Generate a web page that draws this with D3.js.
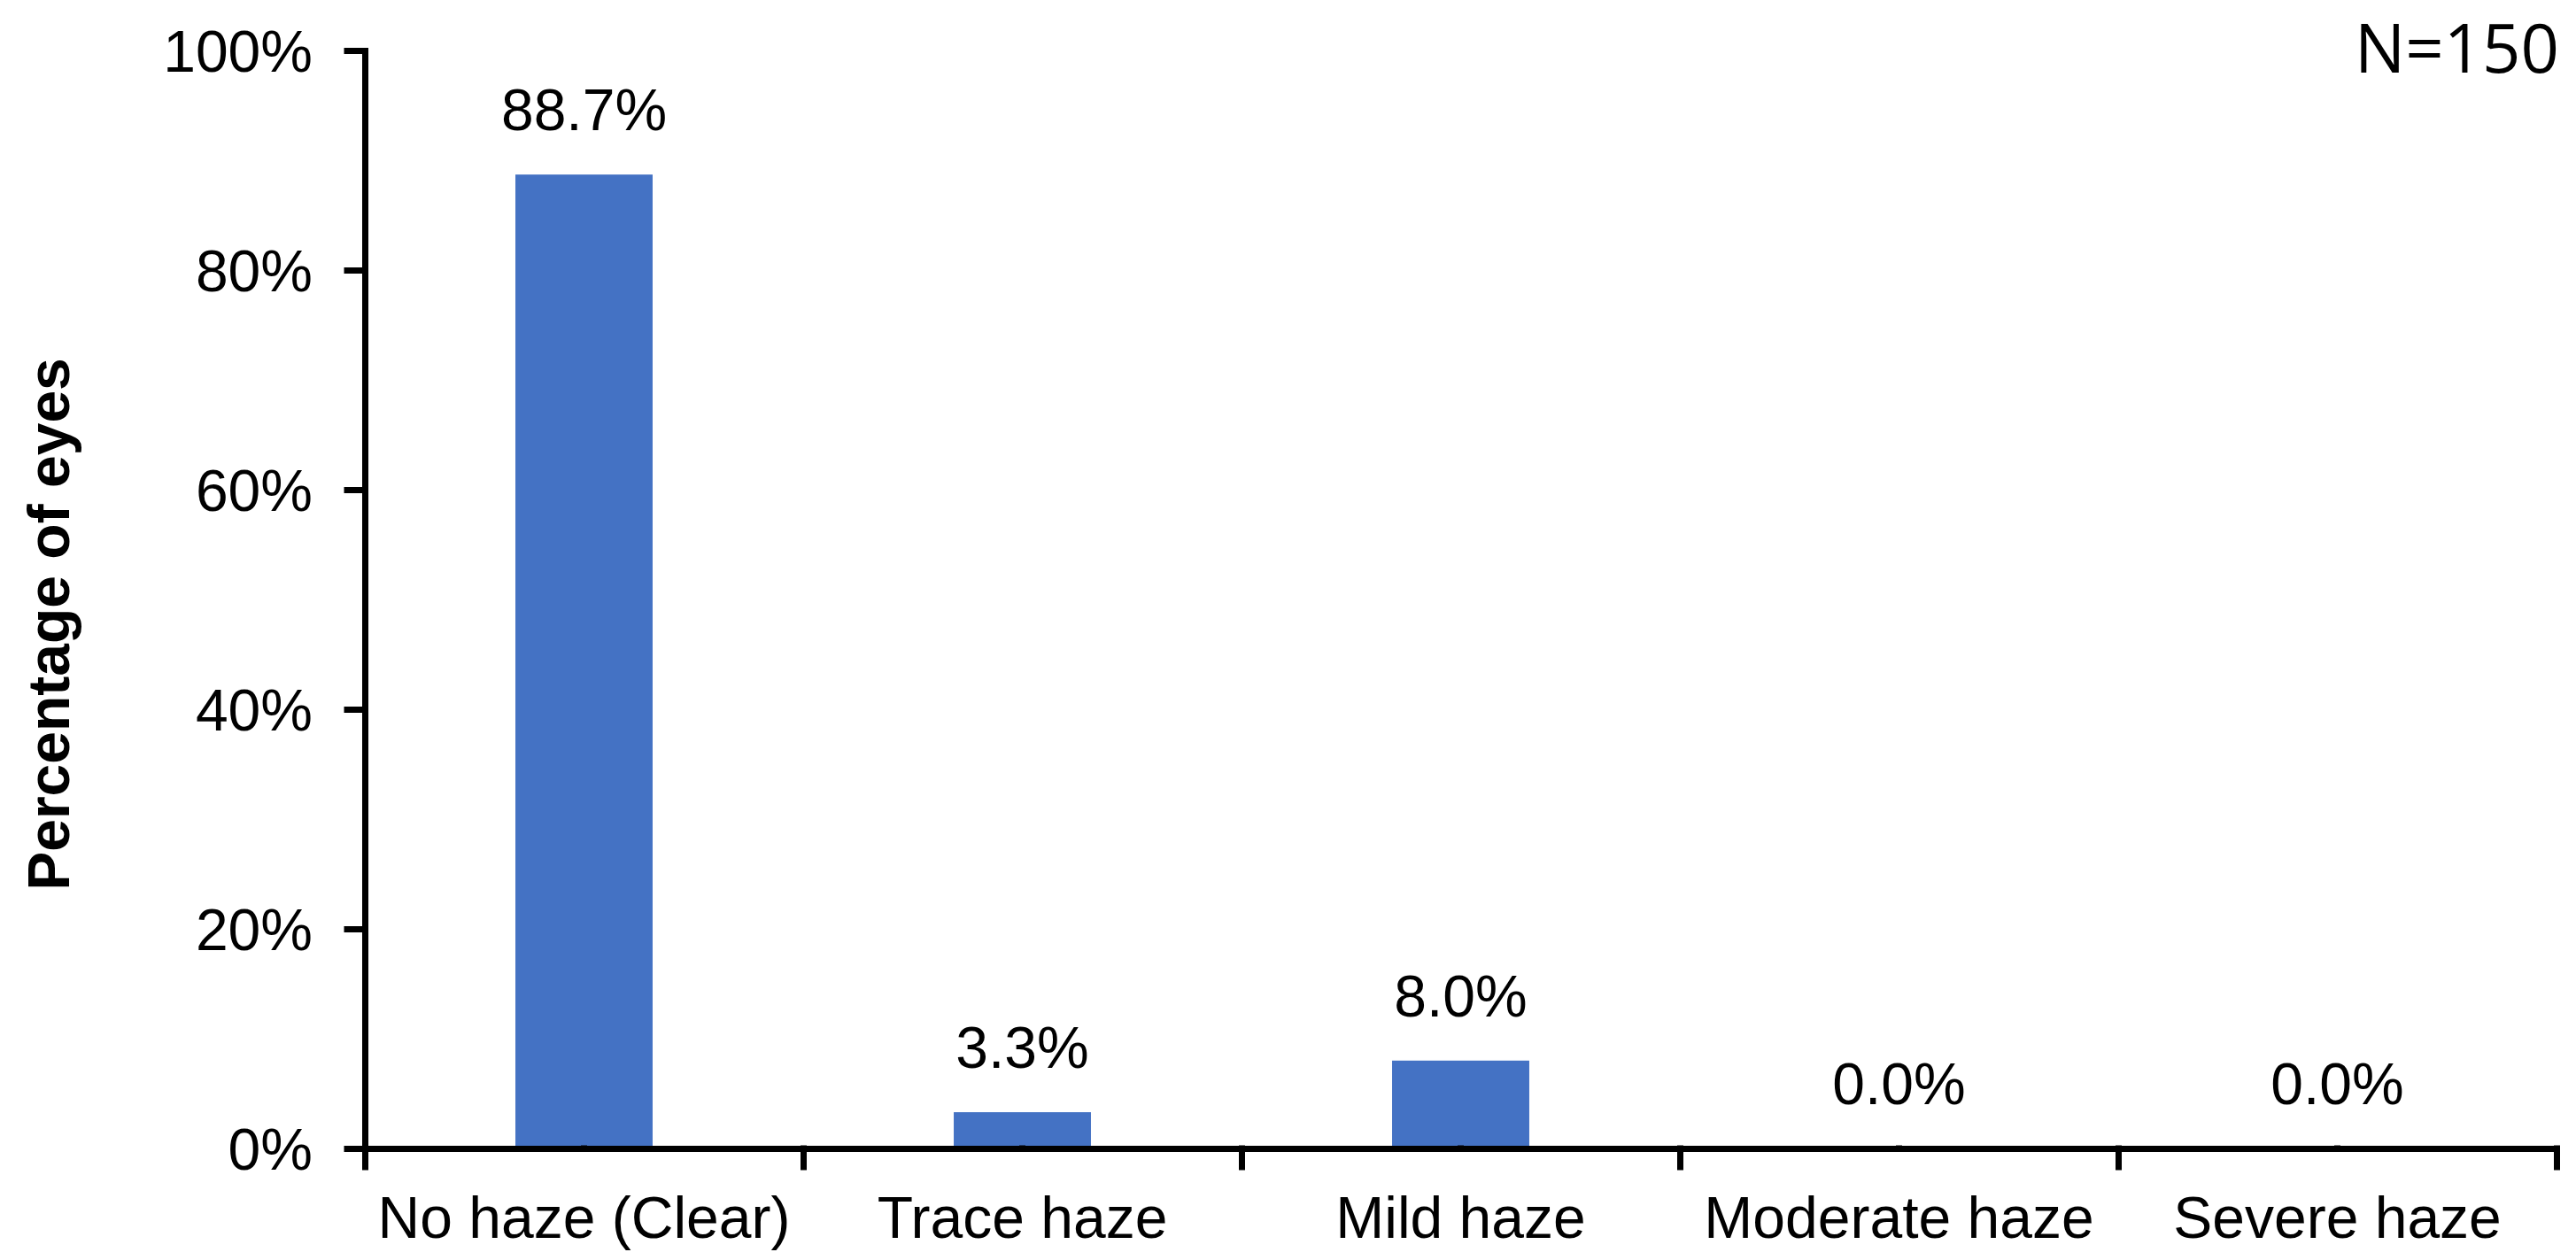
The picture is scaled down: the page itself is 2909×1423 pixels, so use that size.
<!DOCTYPE html>
<html>
<head>
<meta charset="utf-8">
<script src="https://cdn.jsdelivr.net/npm/d3@7"></script>
<style>
  body { margin: 0; background: #fff; }
  text { font-family: "Liberation Sans", Arial, sans-serif; fill: #000; }
</style>
</head>
<body>
<svg id="chart" width="2909" height="1423"></svg>
<script>
// data
const categories = ["No haze (Clear)", "Trace haze", "Mild haze", "Moderate haze", "Severe haze"];
const percents = [88.7, 3.3, 8.0, 0.0, 0.0];
const yTicks = [0, 20, 40, 60, 80, 100];
const sampleLabel = "N=150";
const yTitle = "Percentage of eyes";

const svg = d3.select("#chart");
const width = Number(svg.attr("width"));
const height = Number(svg.attr("height"));
const margin = {top: 57, right: 22, bottom: 126, left: 412};
const innerWidth = width - margin.left - margin.right;
const innerHeight = height - margin.top - margin.bottom;

const g = svg.append("g")
  .attr("transform", `translate(${margin.left},${margin.top})`);

// band scale for bars + labels, linear scale for boundary ticks
const x = d3.scaleBand()
  .domain(categories)
  .range([0, innerWidth])
  .paddingInner(0.687)
  .paddingOuter(0.3435);

const xEdge = d3.scaleLinear()
  .domain([0, categories.length])
  .range([0, innerWidth]);

const y = d3.scaleLinear()
  .domain([0, 100])
  .range([innerHeight, 0]);

// bars
g.append("g")
  .selectAll("rect")
  .data(percents)
  .join("rect")
    .attr("x", (d, i) => x(categories[i]))
    .attr("y", d => y(d))
    .attr("width", x.bandwidth())
    .attr("height", d => innerHeight - y(d))
    .attr("fill", "#4472C4");

// value labels
g.append("g")
  .selectAll("text")
  .data(percents)
  .join("text")
    .attr("x", (d, i) => x(categories[i]) + x.bandwidth() / 2)
    .attr("y", d => y(d) - 50)
    .attr("text-anchor", "middle")
    .style("font-size", "66px")
    .text(d => d.toFixed(1) + "%");

// y axis
const yAxis = g.append("g")
  .call(d3.axisLeft(y)
    .tickValues(yTicks)
    .tickFormat(d => d + "%")
    .tickSizeInner(20)
    .tickSizeOuter(0)
    .tickPadding(39));
yAxis.selectAll("text")
  .style("font-size", "66px")
  .attr("dy", "0.35em");

// x axis: labels centered in each band
const xAxis = g.append("g")
  .attr("transform", `translate(0,${innerHeight})`)
  .call(d3.axisBottom(x).tickSize(0).tickPadding(54));
xAxis.selectAll("text").style("font-size", "66px");
xAxis.select(".domain").remove();

// x axis line + ticks at the category edges
const xEdges = g.append("g")
  .attr("transform", `translate(0,${innerHeight})`)
  .call(d3.axisBottom(xEdge)
    .tickValues(d3.range(categories.length + 1))
    .tickSizeInner(21)
    .tickSizeOuter(0));
xEdges.selectAll("text").remove();

g.selectAll(".domain, .tick line")
  .attr("stroke", "#000")
  .attr("stroke-width", 7)
  .attr("stroke-linecap", "square");

// y axis title
svg.append("text")
  .attr("transform", "translate(78,705) rotate(-90)")
  .attr("text-anchor", "middle")
  .style("font-size", "66px")
  .style("font-weight", "bold")
  .text(yTitle);

// sample size
svg.append("text")
  .attr("x", 2890)
  .attr("y", 82)
  .attr("text-anchor", "end")
  .style("font-family", "'Open Sans', sans-serif")
  .style("font-size", "76px")
  .text(sampleLabel);
</script>
</body>
</html>
